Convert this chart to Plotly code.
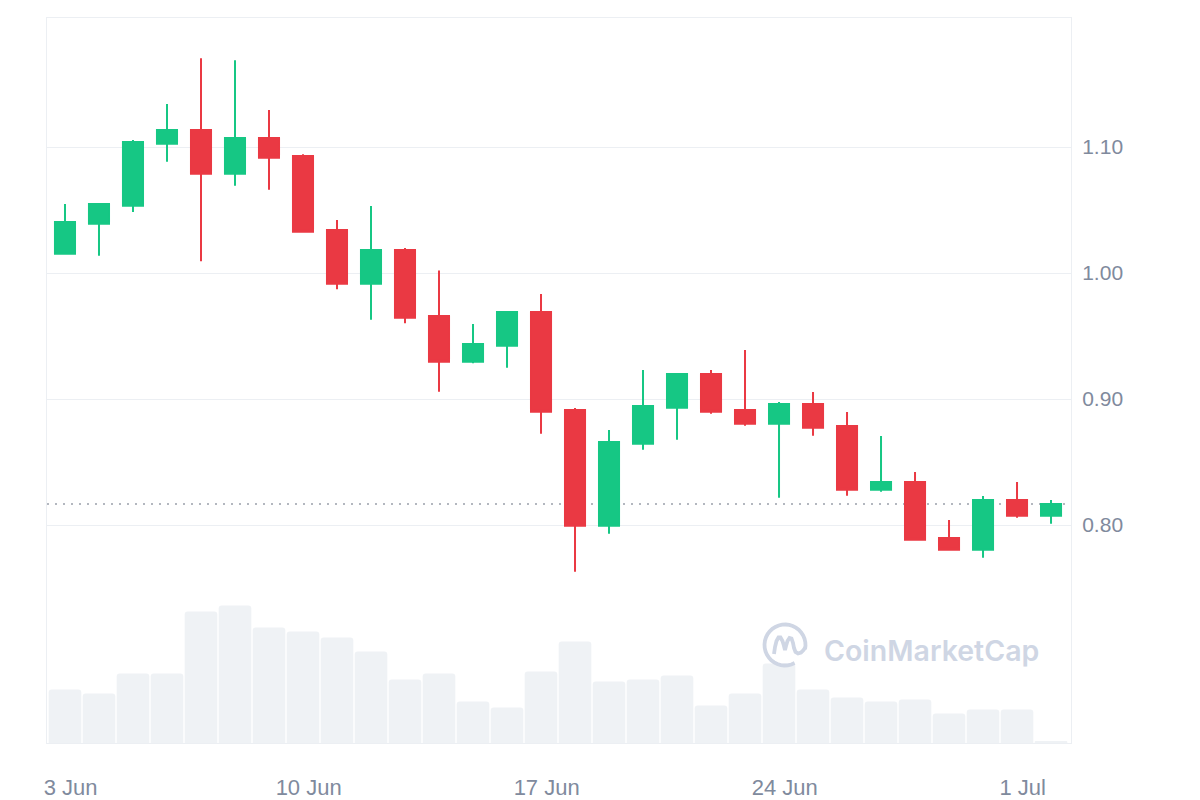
import math
import pandas as pd
import plotly.graph_objects as go

# ---------------- data ----------------
dates = pd.date_range("2024-06-03", "2024-07-02", freq="D")

open_ = [1.0153, 1.0391, 1.0534, 1.1026, 1.1135, 1.0788, 1.1071, 1.0929, 1.0341, 0.9915,
         1.0183, 0.9659, 0.9296, 0.9423, 0.9690, 0.8913, 0.7994, 0.8645, 0.8931, 0.9198,
         0.8913, 0.8804, 0.8960, 0.8786, 0.8280, 0.8341, 0.7897, 0.7804, 0.8198, 0.8074]
high = [1.0548, 1.0552, 1.1056, 1.1341, 1.1704, 1.1688, 1.1294, 1.0942, 1.0421, 1.0532,
        1.0198, 1.0021, 0.9595, 0.9690, 0.9833, 0.8929, 0.8754, 0.9230, 0.9198, 0.9230,
        0.9389, 0.8976, 0.9056, 0.8897, 0.8706, 0.8421, 0.8040, 0.8230, 0.8341, 0.8198]
low = [1.0153, 1.0137, 1.0484, 1.0883, 1.0093, 1.0693, 1.0661, 1.0328, 0.9871, 0.9629,
       0.9601, 0.9058, 0.9283, 0.9248, 0.8725, 0.7629, 0.7931, 0.8598, 0.8677, 0.8883,
       0.8788, 0.8217, 0.8709, 0.8233, 0.8264, 0.7883, 0.7804, 0.7740, 0.8058, 0.8010]
close = [1.0405, 1.0548, 1.1040, 1.1135, 1.0788, 1.1071, 1.0915, 1.0328, 0.9915, 1.0183,
         0.9645, 0.9296, 0.9437, 0.9690, 0.8899, 0.7994, 0.8659, 0.8944, 0.9198, 0.8899,
         0.8804, 0.8960, 0.8772, 0.8280, 0.8341, 0.7883, 0.7804, 0.8198, 0.8074, 0.8167]
volume_m = [26.8, 24.8, 34.8, 34.8, 65.8, 68.8, 57.8, 55.8, 52.8, 45.8,
            31.8, 34.8, 20.8, 17.8, 35.8, 50.8, 30.8, 31.8, 33.8, 18.8,
            24.8, 39.8, 26.8, 22.8, 20.8, 21.8, 14.8, 16.8, 16.8, 0.9]

price_ticks = [0.80, 0.90, 1.00, 1.10]
price_tick_labels = ["0.80", "0.90", "1.00", "1.10"]
date_ticks = ["2024-06-03", "2024-06-10", "2024-06-17", "2024-06-24", "2024-07-01"]
date_tick_labels = ["3 Jun", "10 Jun", "17 Jun", "24 Jun", "1 Jul"]

# ---------------- style ----------------
UP = "#16c784"
DOWN = "#ea3943"
GRID = "#eceff3"
LABEL = "#808a9d"
VOL = "#eff2f5"
WM = "#cfd6e4"

# page body has an 8px default margin -> figure starts at (8, 8) in the window
W, H = 1200, 800
ML, MT = 39, 10
PW, PH = 1024, 725
MR, MB = W - ML - PW, H - MT - PH

fig = go.Figure()

fig.add_trace(go.Bar(
    x=dates, y=volume_m, yaxis="y2",
    width=0.96 * 86400000,
    marker=dict(color=VOL, line=dict(width=0), cornerradius=3),
    hoverinfo="skip", showlegend=False,
))

fig.add_trace(go.Candlestick(
    x=dates, open=open_, high=high, low=low, close=close,
    increasing=dict(line=dict(color=UP, width=2), fillcolor=UP),
    decreasing=dict(line=dict(color=DOWN, width=2), fillcolor=DOWN),
    whiskerwidth=0, showlegend=False,
))

# current price dotted line
fig.add_shape(type="line", xref="paper", x0=0, x1=1, yref="y",
              y0=close[-1], y1=close[-1], layer="below",
              line=dict(color="#9aa0ab", width=1.5, dash="2px,6px"))

# ---- CoinMarketCap watermark (decoration in paper coords; px = window pixels) ----
def px2paper(px, py):
    return (px - 8 - ML) / PW, (MT + PH - (py - 8)) / PH

cx, cy, R = 785, 645, 20.5
arc = []
for k in range(0, 32):
    th = math.radians(min(-12 + k * 10, 300))
    arc.append(px2paper(cx + R * math.cos(th), cy - R * math.sin(th)))
path_arc = "M " + " L ".join(f"{x:.5f},{y:.5f}" for x, y in arc)

m_pts = [(-11, 9), (-10, 2), (-8.5, -4), (-6.5, -7.5), (-4.5, -7.5), (-2.5, -4),
         (-1, 1), (0, 5), (1, 1), (2.5, -4), (4.5, -7), (6.5, -6.5), (8, -2),
         (9, 3), (10.5, 7), (13, 8.5), (16, 7.5), (18.5, 5), (20.2, 2.5)]
mp = [px2paper(cx + dx, cy + dy) for dx, dy in m_pts]
path_m = "M " + " L ".join(f"{x:.5f},{y:.5f}" for x, y in mp)

for p in (path_arc, path_m):
    fig.add_shape(type="path", xref="paper", yref="paper", path=p, layer="above",
                  line=dict(color=WM, width=3.8))

tx, ty = px2paper(822, 650)
fig.add_annotation(xref="paper", yref="paper", x=tx, y=ty, xanchor="left", yanchor="middle",
                   text="CoinMarketCap", showarrow=False,
                   font=dict(family="Inter, Noto Sans, sans-serif", size=28.5, color=WM, weight=600))

# axes ranges
x0 = dates[0] - pd.Timedelta(hours=12.7)
x1 = dates[-1] + pd.Timedelta(hours=14.1)
tick_pos = pd.to_datetime(date_ticks) + pd.Timedelta(hours=4)

fig.update_layout(
    width=W, height=H,
    margin=dict(l=ML, r=MR, t=MT, b=MB, pad=0, autoexpand=False),
    paper_bgcolor="white", plot_bgcolor="white",
    showlegend=False,
    boxgap=0.41, boxgroupgap=0,
    font=dict(family="Liberation Sans, Arial, sans-serif", color=LABEL),
    xaxis=dict(
        type="date", range=[x0, x1], automargin=False,
        rangeslider=dict(visible=False),
        tickmode="array", tickvals=list(tick_pos), ticktext=date_tick_labels,
        ticks="outside", ticklen=25, tickcolor="rgba(0,0,0,0)",
        tickfont=dict(size=22, color=LABEL),
        showgrid=False, zeroline=False,
        showline=True, linecolor=GRID, linewidth=1, mirror=True,
    ),
    yaxis=dict(
        side="right", range=[0.6270, 1.2024], automargin=False,
        tickmode="array", tickvals=price_ticks, ticktext=price_tick_labels,
        ticks="outside", ticklen=6, tickcolor="rgba(0,0,0,0)",
        tickfont=dict(size=21, color=LABEL),
        showgrid=True, gridcolor=GRID, gridwidth=1, zeroline=False,
        showline=True, linecolor=GRID, linewidth=1, mirror=True,
    ),
    yaxis2=dict(
        overlaying="y", range=[0, PH * 0.5], visible=False, automargin=False,
        showgrid=False, zeroline=False,
    ),
)

fig.write_html("out.html")
